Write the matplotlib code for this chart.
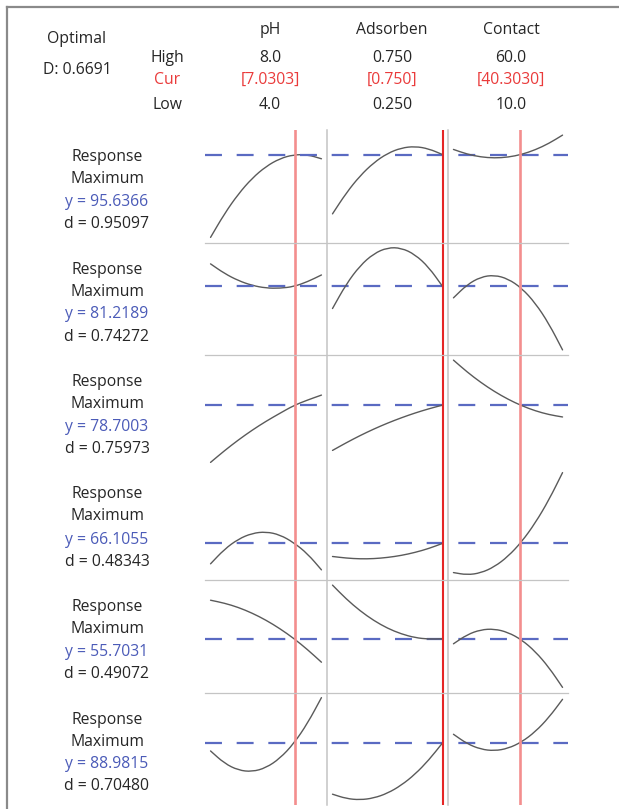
import matplotlib
matplotlib.use("Agg")
import matplotlib.pyplot as plt
from matplotlib.lines import Line2D
from matplotlib.path import Path
from matplotlib.patches import PathPatch
from matplotlib.transforms import blended_transform_factory

plt.rcParams['font.family'] = ['Open Sans', 'DejaVu Sans']
plt.rcParams['lines.scale_dashes'] = False

# ---- factors -------------------------------------------------------------
factors = ["pH", "Adsorben", "Contact"]
factor_low = [4.0, 0.25, 10.0]
factor_high = [8.0, 0.75, 60.0]
factor_cur = [7.0303, 0.750, 40.3030]
high_labels = ["8.0", "0.750", "60.0"]
cur_labels = ["[7.0303]", "[0.750]", "[40.3030]"]
low_labels = ["4.0", "0.250", "10.0"]

# factor settings at which the predicted responses are traced
ph_grid = [4.0, 4.5, 5.0, 5.5, 6.0, 6.5, 7.0, 7.5, 8.0]
ads_grid = [0.25, 0.3125, 0.375, 0.4375, 0.5, 0.5625, 0.625, 0.6875, 0.75]
contact_grid = [10.0, 16.25, 22.5, 28.75, 35.0, 41.25, 47.5, 53.75, 60.0]

# ---- optimisation summary ------------------------------------------------
composite_D = "0.6691"
response_names = ["Response"] * 6
goals = ["Maximum"] * 6
pred_y = [95.6366, 81.2189, 78.7003, 66.1055, 55.7031, 88.9815]
desirability = [0.95097, 0.74272, 0.75973, 0.48343, 0.49072, 0.70480]

# ---- predicted response traces (one list per response x factor) ----------
r1_ph = [83.49, 86.95, 89.85, 92.17, 93.90, 95.05, 95.62, 95.62, 95.02]
r1_ads = [86.94, 90.01, 92.52, 94.45, 95.82, 96.61, 96.84, 96.49, 95.64]
r1_con = [96.39, 95.70, 95.28, 95.13, 95.25, 95.65, 96.33, 97.27, 98.49]

r2_ph = [86.79, 84.42, 82.64, 81.44, 80.79, 80.74, 81.15, 82.37, 84.04]
r2_ads = [75.72, 81.79, 86.34, 89.34, 90.82, 90.74, 89.12, 85.97, 81.22]
r2_con = [78.37, 81.64, 83.54, 84.02, 83.09, 80.79, 77.09, 71.97, 65.47]

r3_ph = [67.50, 69.78, 71.88, 73.80, 75.54, 77.10, 78.62, 79.70, 80.66]
r3_ads = [69.84, 71.34, 72.74, 74.02, 75.18, 76.22, 77.16, 77.98, 78.70]
r3_con = [87.50, 85.18, 83.14, 81.36, 79.84, 78.58, 77.58, 76.84, 76.38]

r4_ph = [60.02, 64.37, 67.40, 69.14, 69.59, 68.69, 66.35, 63.02, 58.22]
r4_ads = [62.21, 61.73, 61.49, 61.55, 61.91, 62.51, 63.41, 64.58, 66.11]
r4_con = [57.41, 56.72, 57.29, 59.12, 62.21, 66.56, 72.20, 79.07, 87.23]

r5_ph = [67.19, 66.32, 65.06, 63.35, 61.25, 58.73, 55.82, 52.46, 48.71]
r5_ads = [71.69, 67.55, 64.04, 61.13, 58.82, 57.14, 56.03, 55.58, 55.70]
r5_con = [54.20, 56.93, 58.40, 58.64, 57.62, 55.40, 51.92, 47.18, 41.21]

r6_ph = [88.18, 86.94, 86.25, 86.10, 86.49, 87.43, 88.91, 90.95, 93.52]
r6_ads = [83.85, 83.41, 83.28, 83.46, 83.94, 84.74, 85.84, 87.26, 88.98]
r6_con = [89.85, 88.90, 88.35, 88.19, 88.43, 89.07, 90.10, 91.53, 93.35]

grids = [ph_grid, ads_grid, contact_grid]
traces = [
    [r1_ph, r1_ads, r1_con],
    [r2_ph, r2_ads, r2_con],
    [r3_ph, r3_ads, r3_con],
    [r4_ph, r4_ads, r4_con],
    [r5_ph, r5_ads, r5_con],
    [r6_ph, r6_ads, r6_con],
]

# ---- styling ---------------------------------------------------------------
TXT = "#262626"
BLUE = "#4b5bb8"
RED_TXT = "#ea3b3b"
CURVE = "#5a5a5a"
DASH = "#5a6ac2"
GRID = "#c4c4c4"
FRAME = "#8a8a8a"
red_line_colors = ["#f38e8e", "#e52626", "#f38e8e"]
red_line_widths = [1.9, 1.5, 1.9]
FS = 11.3

W, H = 619, 809
fig = plt.figure(figsize=(W / 100, H / 100), dpi=100)


def fx(px):
    return px / W


def fy(py):
    return 1 - py / H


def smooth_trace(ax, xs, ys, **kw):
    """Draw a trace as a chain of quadratic Bezier pieces through the samples."""
    pts = list(zip(xs, ys))
    verts = [pts[0]]
    codes = [Path.MOVETO]
    mids = [((pts[i][0] + pts[i + 1][0]) / 2, (pts[i][1] + pts[i + 1][1]) / 2)
            for i in range(len(pts) - 1)]
    verts.append(mids[0])
    codes.append(Path.LINETO)
    for i in range(1, len(pts) - 1):
        verts += [pts[i], mids[i]]
        codes += [Path.CURVE3, Path.CURVE3]
    verts.append(pts[-1])
    codes.append(Path.LINETO)
    ax.add_patch(PathPatch(Path(verts, codes), fill=False, **kw))


col_edges = [205, 327, 448, 568]
row_top = 130
row_h = 112.5
n_rows = len(traces)

# outer frame (top and left edges)
fig.add_artist(Line2D([fx(7), fx(W)], [fy(7), fy(7)], color=FRAME, lw=1.6))
fig.add_artist(Line2D([fx(7), fx(7)], [fy(7), fy(H)], color=FRAME, lw=1.6))

# header block
fig.text(fx(77), fy(39), "Optimal", ha="center", va="center", fontsize=FS, color=TXT)
fig.text(fx(77), fy(70), "D: " + composite_D, ha="center", va="center", fontsize=FS, color=TXT)
fig.text(fx(167), fy(58), "High", ha="center", va="center", fontsize=FS, color=TXT)
fig.text(fx(167), fy(80), "Cur", ha="center", va="center", fontsize=FS, color=RED_TXT)
fig.text(fx(167), fy(105), "Low", ha="center", va="center", fontsize=FS, color=TXT)

col_text_x = [270, 392, 511]
for c in range(3):
    x = fx(col_text_x[c])
    fig.text(x, fy(30), factors[c], ha="center", va="center", fontsize=FS, color=TXT)
    fig.text(x, fy(58), high_labels[c], ha="center", va="center", fontsize=FS, color=TXT)
    fig.text(x, fy(80), cur_labels[c], ha="center", va="center", fontsize=FS, color=RED_TXT)
    fig.text(x, fy(105), low_labels[c], ha="center", va="center", fontsize=FS, color=TXT)

# panel separators: vertical between factor columns
for xe in col_edges[1:-1]:
    fig.add_artist(Line2D([fx(xe), fx(xe)], [fy(row_top), fy(row_top + n_rows * row_h)],
                          color=GRID, lw=1.1, zorder=0.5))
# horizontal between response rows
for r in [1, 2, 4, 5]:
    yy = fy(row_top + r * row_h)
    fig.add_artist(Line2D([fx(col_edges[0]), fx(col_edges[-1])], [yy, yy],
                          color=GRID, lw=0.9, zorder=0.5))

for r in range(n_rows):
    top = row_top + r * row_h
    vals = [v for tr in traces[r] for v in tr]
    lo, hi = min(vals), max(vals)
    pad = 0.05 * (hi - lo)
    axes = []
    for c in range(3):
        ax = fig.add_axes([fx(col_edges[c]), fy(top + row_h),
                           (col_edges[c + 1] - col_edges[c]) / W, row_h / H])
        span = factor_high[c] - factor_low[c]
        ax.set_xlim(factor_low[c] - 0.05 * span, factor_high[c] + 0.05 * span)
        ax.set_ylim(lo - pad, hi + pad)
        ax.set_axis_off()
        ax.patch.set_alpha(0)
        smooth_trace(ax, grids[c], traces[r][c], edgecolor=CURVE, lw=1.0, zorder=2,
                     capstyle="round", joinstyle="round", clip_on=False)
        ax.axvline(factor_cur[c], color=red_line_colors[c], lw=red_line_widths[c], zorder=4)
        axes.append(ax)

    # predicted value at the current setting, dashed across the whole row
    tr = blended_transform_factory(fig.transFigure, axes[0].transData)
    axes[0].add_line(Line2D([fx(col_edges[0]), fx(col_edges[-1])], [pred_y[r], pred_y[r]],
                            transform=tr, color=DASH, lw=1.6, dashes=(12.2, 10.6),
                            clip_on=False, zorder=3))

    # response summary on the left
    lx = fx(107)
    fig.text(lx, fy(top + 27), response_names[r], ha="center", va="center", fontsize=FS, color=TXT)
    fig.text(lx, fy(top + 49), goals[r], ha="center", va="center", fontsize=FS, color=TXT)
    fig.text(lx, fy(top + 72), f"y = {pred_y[r]:.4f}", ha="center", va="center",
             fontsize=FS, color=BLUE)
    fig.text(lx, fy(top + 94), f"d = {desirability[r]:.5f}", ha="center", va="center",
             fontsize=FS, color=TXT)

fig.savefig("out.png", dpi=100, facecolor="white")
